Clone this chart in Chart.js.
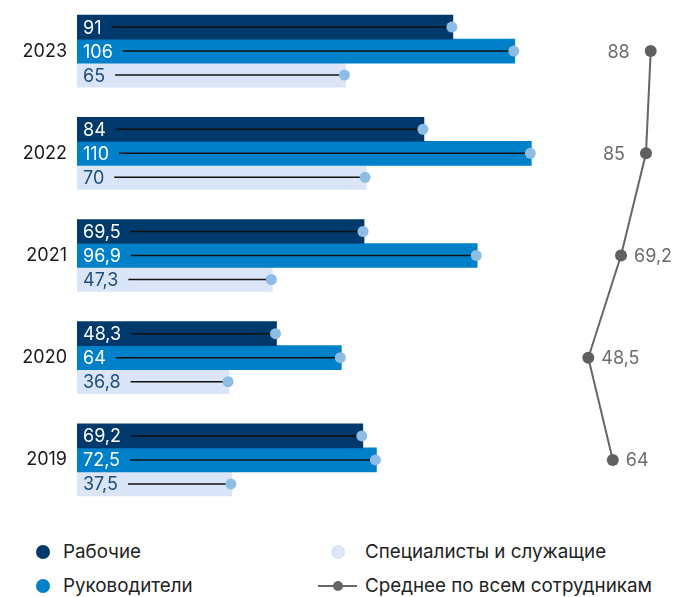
<!DOCTYPE html>
<html>
<head>
<meta charset="utf-8">
<script src="https://cdn.jsdelivr.net/npm/chart.js@4.4.1/dist/chart.umd.min.js"></script>
<style>
  html, body { margin: 0; padding: 0; background: #fff; }
  body { width: 673px; height: 597px; position: relative; overflow: hidden; font-family: Inter, "Noto Sans", sans-serif; }
  #wrap { position: absolute; left: 0; top: 0; width: 673px; height: 511px; }
  .lg { position: absolute; font-size: 18.8px; color: #222; line-height: 20px; white-space: nowrap; }
  .dot { position: absolute; width: 14px; height: 14px; border-radius: 50%; }
</style>
</head>
<body>
<div id="wrap"><canvas id="c"></canvas></div>

<div class="dot" style="left:36px;top:545px;background:#003a6c"></div>
<div class="lg" style="left:63px;top:542px">Рабочие</div>
<div class="dot" style="left:36px;top:579px;background:#0080c9"></div>
<div class="lg" style="left:63px;top:576px">Руководители</div>
<div class="dot" style="left:331px;top:545px;background:#dae6f7"></div>
<div class="lg" style="left:365px;top:542px">Специалисты и служащие</div>
<div style="position:absolute;left:318px;top:585px;width:39px;height:2px;background:#666"></div>
<div class="dot" style="left:333px;top:581px;width:10px;height:10px;background:#666"></div>
<div class="lg" style="left:365px;top:576px">Среднее по всем сотрудникам</div>

<script>
const years = ['2023', '2022', '2021', '2020', '2019'];
const workers = [91, 84, 69.5, 48.3, 69.2];
const managers = [106, 110, 96.9, 64, 72.5];
const specialists = [65, 70, 47.3, 36.8, 37.5];
const average = [88, 85, 69.2, 48.5, 64];

const fmt = v => String(v).replace('.', ',');

const barLabels = {
  id: 'barLabels',
  afterDatasetsDraw(chart) {
    const ctx = chart.ctx;
    ctx.save();
    ctx.font = '18px Inter, sans-serif';
    ctx.textBaseline = 'middle';
    ctx.textAlign = 'left';
    chart.data.datasets.forEach((ds, di) => {
      if (ds.type === 'line') return;
      const meta = chart.getDatasetMeta(di);
      meta.data.forEach((bar, i) => {
        const txt = fmt(ds.data[i]);
        const x0 = bar.base + 6;
        ctx.fillStyle = ds.labelColor;
        ctx.fillText(txt, x0, bar.y + 1);
        const w = ctx.measureText(txt).width;
        const xe = bar.x - 1;
        ctx.strokeStyle = '#111';
        ctx.lineWidth = 1.5;
        ctx.beginPath();
        ctx.moveTo(x0 + w + 10, bar.y);
        ctx.lineTo(xe, bar.y);
        ctx.stroke();
        ctx.fillStyle = '#8dbce6';
        ctx.beginPath();
        ctx.arc(xe, bar.y, 5.5, 0, Math.PI * 2);
        ctx.fill();
      });
    });
    chart.data.datasets.forEach((ds, di) => {
      if (ds.type !== 'line') return;
      const meta = chart.getDatasetMeta(di);
      ctx.fillStyle = '#6b6b6b';
      meta.data.forEach((pt, i) => {
        const txt = fmt(ds.data[i]);
        const w = ctx.measureText(txt).width;
        if (pt.x + 13 + w > chart.width + 3) {
          ctx.textAlign = 'right';
          ctx.fillText(txt, pt.x - 21, pt.y + 1);
        } else {
          ctx.textAlign = 'left';
          ctx.fillText(txt, pt.x + 13, pt.y + 1);
        }
      });
    });
    ctx.restore();
  }
};

new Chart(document.getElementById('c'), {
  type: 'bar',
  data: {
    labels: years,
    datasets: [
      { label: 'Рабочие', data: workers, backgroundColor: '#003a6c', labelColor: '#ffffff', xAxisID: 'x' },
      { label: 'Руководители', data: managers, backgroundColor: '#0080c9', labelColor: '#ffffff', xAxisID: 'x' },
      { label: 'Специалисты и служащие', data: specialists, backgroundColor: '#dae6f7', labelColor: '#1d4d7e', xAxisID: 'x' },
      { type: 'line', label: 'Среднее по всем сотрудникам', data: average, indexAxis: 'y', xAxisID: 'x2',
        borderColor: '#666666', borderWidth: 2, pointBackgroundColor: '#5f5f5f', pointBorderWidth: 0,
        pointRadius: 6, pointHoverRadius: 6, clip: false, order: -1 }
    ]
  },
  options: {
    indexAxis: 'y',
    responsive: true,
    maintainAspectRatio: false,
    animation: false,
    layout: { padding: 0, autoPadding: false },
    datasets: { bar: { barThickness: 24, borderWidth: 0 } },
    plugins: { legend: { display: false }, tooltip: { enabled: false } },
    scales: {
      y: {
        type: 'category',
        offset: true,
        grid: { display: false, drawTicks: false },
        border: { display: false },
        ticks: { color: '#1a1a1a', font: { family: 'Inter', size: 18 }, padding: 10 },
        afterFit(scale) { scale.width = 77; scale.paddingTop = 0; scale.paddingBottom = 0; }
      },
      x: { type: 'linear', min: 0, max: 144.3, display: false },
      x2: { type: 'linear', axis: 'x', position: 'bottom', min: -275.1, max: 102.1, display: false }
    }
  },
  plugins: [barLabels]
});
</script>
</body>
</html>
